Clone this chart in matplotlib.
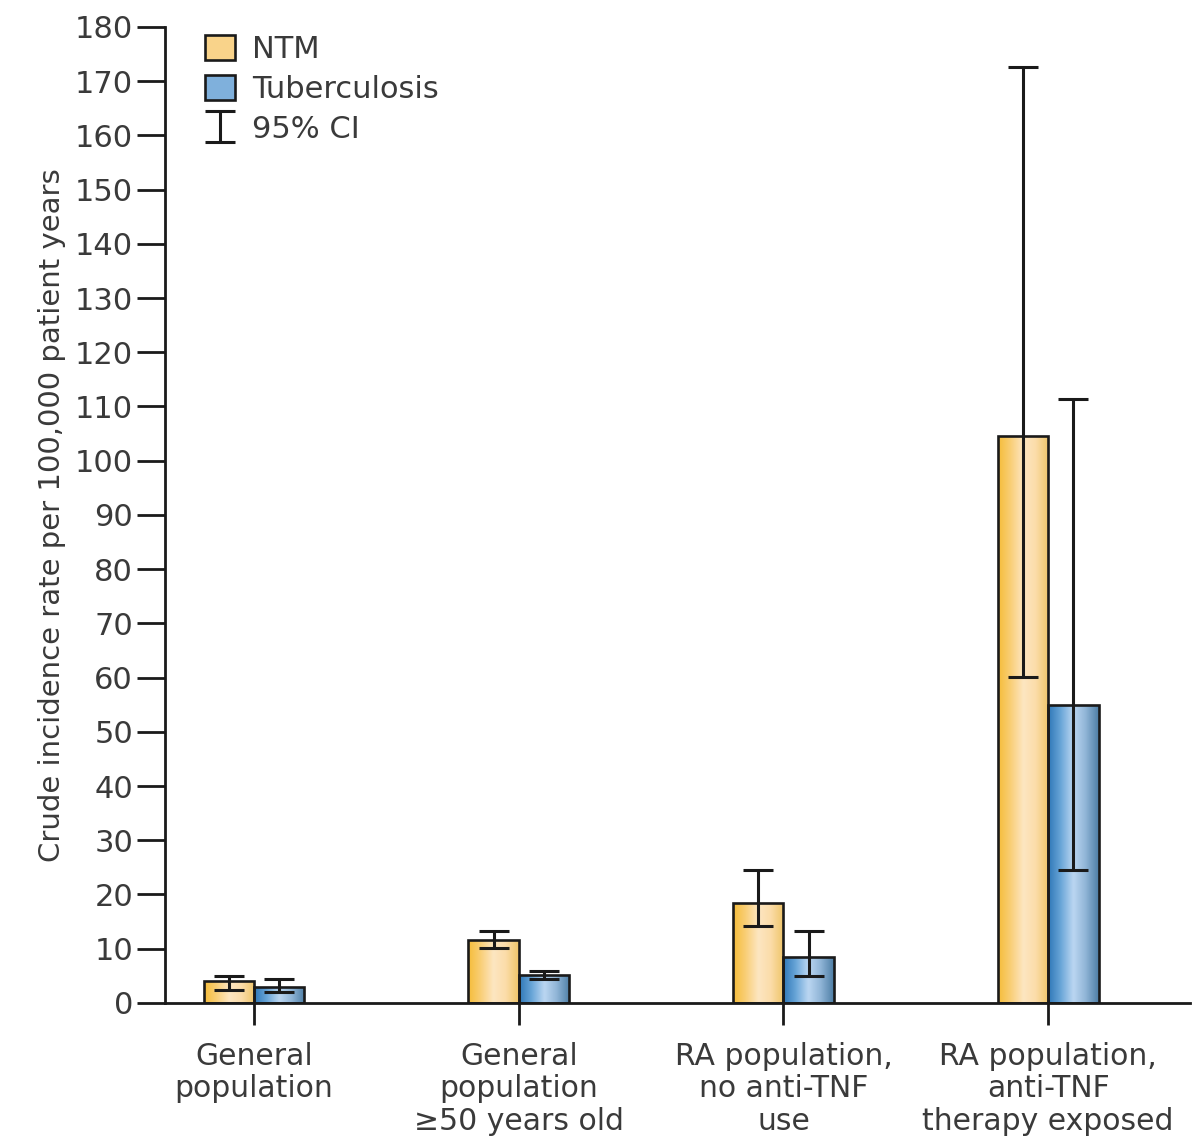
#!/usr/bin/env python3
"""
Crude incidence of NTM vs tuberculosis by population, grouped bars with 95% CI.
Outputs out.png
"""

import numpy as np
import matplotlib
matplotlib.use("Agg")
import matplotlib.pyplot as plt
from matplotlib.colors import LinearSegmentedColormap
from matplotlib.patches import Patch

categories = [
    "General\npopulation",
    "General\npopulation\n\u226550 years old",
    "RA population,\nno anti-TNF\nuse",
    "RA population,\nanti-TNF\ntherapy exposed",
]
ntm = [4.0, 11.6, 18.5, 104.6]
ntm_lo = [2.4, 10.2, 14.2, 60.2]
ntm_hi = [5.0, 13.2, 24.5, 172.7]
tb = [3.0, 5.2, 8.5, 55.0]
tb_lo = [2.1, 4.5, 4.9, 24.5]
tb_hi = [4.4, 5.9, 13.3, 111.3]
yticks = list(range(0, 181, 10))

INK = "#1a1a1a"
TEXT = "#3a3a3a"
NTM_CMAP = LinearSegmentedColormap.from_list(
    "ntm", ["#f6bd3a", "#f9cf78", "#fde6c2", "#fbdca8", "#efc56a"])
TB_CMAP = LinearSegmentedColormap.from_list(
    "tb", ["#2f78b8", "#6aa6d8", "#bcd7f2", "#8fb4d6", "#4f7fa6"])

plt.rcParams["font.family"] = ["DejaVu Sans"]


def gradient_fill(ax, bars, cmap):
    grad = np.linspace(0, 1, 64).reshape(1, -1)
    for b in bars:
        x0, y0 = b.get_x(), b.get_y()
        im = ax.imshow(grad, cmap=cmap, aspect="auto", interpolation="bicubic",
                       extent=(x0, x0 + b.get_width(), y0, y0 + b.get_height()),
                       zorder=2)
        im.set_clip_path(b)


def main():
    fig = plt.figure(figsize=(11.99, 11.41), dpi=100)
    ax = fig.add_axes([0.1376, 0.121, 0.855, 0.8554])

    x = np.arange(len(categories))
    w = 0.19
    b1 = ax.bar(x - w / 2, ntm, w, facecolor="none", edgecolor=INK,
                linewidth=1.9, zorder=3)
    b2 = ax.bar(x + w / 2, tb, w, facecolor="none", edgecolor=INK,
                linewidth=1.9, zorder=3)
    gradient_fill(ax, b1, NTM_CMAP)
    gradient_fill(ax, b2, TB_CMAP)

    ekw = dict(fmt="none", ecolor=INK, elinewidth=2.2, capsize=11,
               capthick=2.2, zorder=4)
    ax.errorbar(x - w / 2, ntm,
                yerr=[np.subtract(ntm, ntm_lo), np.subtract(ntm_hi, ntm)], **ekw)
    ci = ax.errorbar(x + w / 2, tb,
                     yerr=[np.subtract(tb, tb_lo), np.subtract(tb_hi, tb)],
                     label="95% CI", **ekw)

    ax.set_xlim(-0.336, 3.536)
    ax.set_ylim(0, 180)
    ax.set_yticks(yticks)
    ax.set_xticks(x)
    ax.set_xticklabels(categories, fontsize=21.5, color=TEXT, linespacing=1.15)
    ax.tick_params(axis="y", labelsize=22, labelcolor=TEXT, length=20,
                   width=2, color=INK, pad=3)
    ax.tick_params(axis="x", length=16, width=2, color=INK, pad=12)
    for s in ("top", "right"):
        ax.spines[s].set_visible(False)
    for s in ("left", "bottom"):
        ax.spines[s].set_linewidth(2)
        ax.spines[s].set_color(INK)

    ax.set_ylabel("Crude incidence rate per 100,000 patient years",
                  fontsize=21, color=TEXT, labelpad=6)

    handles = [
        Patch(facecolor="#f9d38a", edgecolor=INK, linewidth=1.9, label="NTM"),
        Patch(facecolor="#7fb0dc", edgecolor=INK, linewidth=1.9,
              label="Tuberculosis"),
        ci,
    ]
    ax.legend(handles=handles, loc="upper left", bbox_to_anchor=(0.012, 1.02),
              frameon=False, fontsize=22, labelcolor=TEXT, handlelength=1.0,
              handleheight=0.9, handletextpad=0.55, labelspacing=0.35)

    fig.savefig("out.png", facecolor="white")


if __name__ == "__main__":
    main()
